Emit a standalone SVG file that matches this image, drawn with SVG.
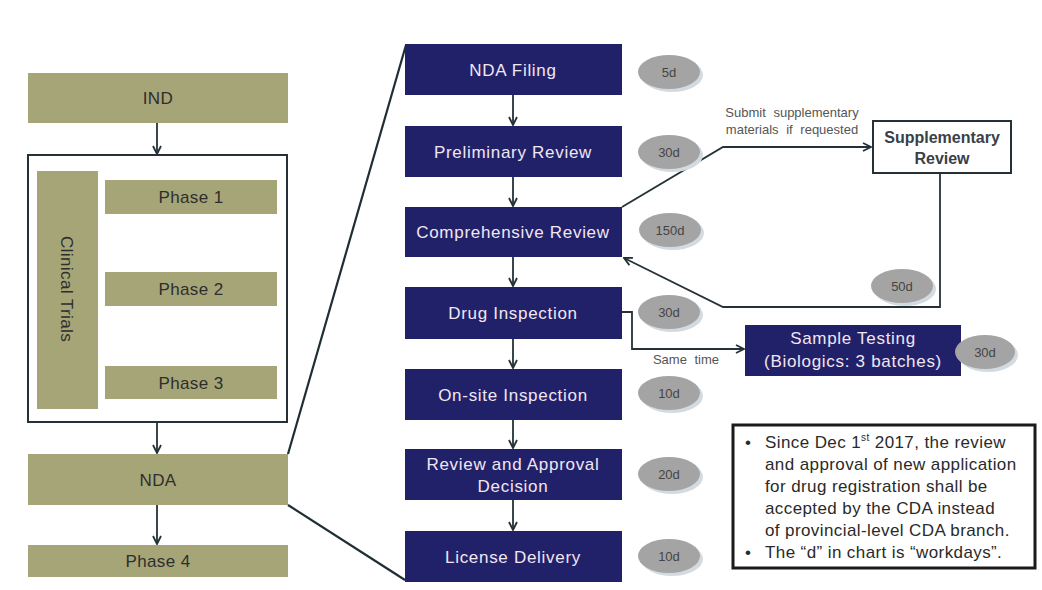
<svg xmlns="http://www.w3.org/2000/svg" width="1042" height="590" viewBox="0 0 1042 590">
<defs>
<marker id="arr" viewBox="0 0 10 10" refX="9" refY="5" markerWidth="10" markerHeight="10" markerUnits="userSpaceOnUse" orient="auto">
<path d="M1,1 L9,5 L1,9" fill="none" stroke="#243238" stroke-width="1.8"/>
</marker>
</defs>
<style>
.olive{fill:#a6a577;}
.navy{fill:#21216a;}
.lt{font-family:"Liberation Sans",Arial,sans-serif;font-size:17px;fill:#2e2e2e;text-anchor:middle;letter-spacing:0.4px;}
.nt{font-family:"Liberation Sans",Arial,sans-serif;font-size:17px;fill:#f2e6f0;text-anchor:middle;letter-spacing:0.7px;}
.et{font-family:"Liberation Sans",Arial,sans-serif;font-size:13px;fill:#444444;text-anchor:middle;}
.el{fill:#a4a4a4;}
.es{fill:#d4dbe0;}
.ln{fill:none;stroke:#243238;stroke-width:1.8;}
.zl{fill:none;stroke:#1f2e34;stroke-width:2.2;}
.small{font-family:"Liberation Sans",Arial,sans-serif;font-size:13px;fill:#555555;word-spacing:4px;}
.note{font-family:"Liberation Sans",Arial,sans-serif;font-size:17px;fill:#2a2a2a;letter-spacing:0.4px;}
</style>
<rect width="1042" height="590" fill="#ffffff"/>

<g id="connectors">
<line class="zl" x1="288" y1="454" x2="406" y2="45"/>
<line class="zl" x1="288" y1="505" x2="405" y2="580"/>
<line class="ln" x1="157" y1="123" x2="157" y2="154" marker-end="url(#arr)"/>
<line class="ln" x1="157" y1="423" x2="157" y2="453" marker-end="url(#arr)"/>
<line class="ln" x1="157" y1="505" x2="157" y2="544" marker-end="url(#arr)"/>
<line class="ln" x1="513" y1="95" x2="513" y2="125" marker-end="url(#arr)"/>
<line class="ln" x1="513" y1="177" x2="513" y2="206" marker-end="url(#arr)"/>
<line class="ln" x1="513" y1="257" x2="513" y2="286" marker-end="url(#arr)"/>
<line class="ln" x1="513" y1="339" x2="513" y2="368" marker-end="url(#arr)"/>
<line class="ln" x1="513" y1="420" x2="513" y2="448" marker-end="url(#arr)"/>
<line class="ln" x1="513" y1="500" x2="513" y2="530" marker-end="url(#arr)"/>
<polyline class="ln" points="622,207 723,147 871,147" marker-end="url(#arr)"/>
<polyline class="ln" points="940,173 940,307 723,307 624,258" marker-end="url(#arr)"/>
<polyline class="ln" points="622,312 632,312 632,349 744,349" marker-end="url(#arr)"/>
<text class="small" x="792" y="117" text-anchor="middle">Submit supplementary</text>
<text class="small" x="792" y="134" text-anchor="middle">materials if requested</text>
<text class="small" x="686" y="364" text-anchor="middle">Same time</text>
</g>

<g id="IND"><rect class="olive" x="28" y="73" width="260" height="50"/><text class="lt" x="158" y="104">IND</text></g>
<g id="clinical-cluster"><rect x="28" y="155" width="259" height="267" fill="none" stroke="#243238" stroke-width="2"/></g>
<g id="clinical-trials"><rect class="olive" x="37" y="171" width="61" height="238"/><text class="lt" transform="translate(61,289) rotate(90)" x="0" y="0">Clinical Trials</text></g>
<g id="phase1"><rect class="olive" x="105" y="180" width="172" height="34"/><text class="lt" x="191" y="203">Phase 1</text></g>
<g id="phase2"><rect class="olive" x="105" y="272" width="172" height="34"/><text class="lt" x="191" y="295">Phase 2</text></g>
<g id="phase3"><rect class="olive" x="105" y="366" width="172" height="33"/><text class="lt" x="191" y="389">Phase 3</text></g>
<g id="NDA"><rect class="olive" x="28" y="454" width="260" height="51"/><text class="lt" x="158" y="486">NDA</text></g>
<g id="phase4"><rect class="olive" x="28" y="545" width="260" height="32"/><text class="lt" x="158" y="567">Phase 4</text></g>

<g id="nda-filing"><rect class="navy" x="405" y="44" width="217" height="51"/><text class="nt" x="513" y="76">NDA Filing</text></g>
<g id="preliminary-review"><rect class="navy" x="405" y="126" width="217" height="51"/><text class="nt" x="513" y="158">Preliminary Review</text></g>
<g id="comprehensive-review"><rect class="navy" x="405" y="207" width="217" height="50"/><text class="nt" x="513" y="238">Comprehensive Review</text></g>
<g id="drug-inspection"><rect class="navy" x="405" y="287" width="217" height="52"/><text class="nt" x="513" y="319">Drug Inspection</text></g>
<g id="onsite-inspection"><rect class="navy" x="405" y="369" width="217" height="51"/><text class="nt" x="513" y="401">On-site Inspection</text></g>
<g id="review-approval"><rect class="navy" x="405" y="449" width="217" height="51"/><text class="nt" x="513" y="470">Review and Approval</text><text class="nt" x="513" y="492">Decision</text></g>
<g id="license-delivery"><rect class="navy" x="405" y="531" width="217" height="51"/><text class="nt" x="513" y="563">License Delivery</text></g>

<g id="supplementary-review"><rect x="873" y="121" width="138" height="52" fill="#ffffff" stroke="#243238" stroke-width="2"/><text class="lt" x="942" y="143" style="font-weight:bold;font-size:16px;fill:#3a4048;letter-spacing:0">Supplementary</text><text class="lt" x="942" y="164" style="font-weight:bold;font-size:16px;fill:#3a4048;letter-spacing:0">Review</text></g>
<g id="sample-testing"><rect class="navy" x="745" y="325" width="216" height="51"/><text class="nt" x="853" y="344">Sample Testing</text><text class="nt" x="853" y="367">(Biologics: 3 batches)</text></g>

<g id="d-5"><ellipse class="es" cx="672" cy="75" rx="31" ry="17"/><ellipse class="el" cx="669" cy="72" rx="31" ry="17"/><text class="et" x="669" y="77">5d</text></g>
<g id="d-30a"><ellipse class="es" cx="672" cy="155" rx="31" ry="17"/><ellipse class="el" cx="669" cy="152" rx="31" ry="17"/><text class="et" x="669" y="157">30d</text></g>
<g id="d-150"><ellipse class="es" cx="673" cy="233" rx="31" ry="17"/><ellipse class="el" cx="670" cy="230" rx="31" ry="17"/><text class="et" x="670" y="235">150d</text></g>
<g id="d-30b"><ellipse class="es" cx="672" cy="315" rx="31" ry="17"/><ellipse class="el" cx="669" cy="312" rx="31" ry="17"/><text class="et" x="669" y="317">30d</text></g>
<g id="d-10a"><ellipse class="es" cx="672" cy="396" rx="31" ry="17"/><ellipse class="el" cx="669" cy="393" rx="31" ry="17"/><text class="et" x="669" y="398">10d</text></g>
<g id="d-20"><ellipse class="es" cx="672" cy="477" rx="31" ry="17"/><ellipse class="el" cx="669" cy="474" rx="31" ry="17"/><text class="et" x="669" y="479">20d</text></g>
<g id="d-10b"><ellipse class="es" cx="672" cy="559" rx="31" ry="17"/><ellipse class="el" cx="669" cy="556" rx="31" ry="17"/><text class="et" x="669" y="561">10d</text></g>
<g id="d-50"><ellipse class="es" cx="905" cy="289" rx="31" ry="17"/><ellipse class="el" cx="902" cy="286" rx="31" ry="17"/><text class="et" x="902" y="291">50d</text></g>
<g id="d-30c"><ellipse class="es" cx="988" cy="355" rx="30" ry="17"/><ellipse class="el" cx="985" cy="352" rx="30" ry="17"/><text class="et" x="985" y="357">30d</text></g>

<g id="note">
<rect x="733" y="425" width="302" height="143" fill="#ffffff" stroke="#1a1a1a" stroke-width="3"/>
<text class="note" x="745" y="448">•</text>
<text class="note" x="765" y="448">Since Dec 1<tspan font-size="10" dy="-7">st</tspan><tspan dy="7"> 2017, the review</tspan></text>
<text class="note" x="765" y="470">and approval of new application</text>
<text class="note" x="765" y="492">for drug registration shall be</text>
<text class="note" x="765" y="514">accepted by the CDA  instead</text>
<text class="note" x="765" y="536">of provincial-level CDA branch.</text>
<text class="note" x="745" y="558">•</text>
<text class="note" x="765" y="558">The “d” in chart is “workdays”.</text>
</g>
</svg>
